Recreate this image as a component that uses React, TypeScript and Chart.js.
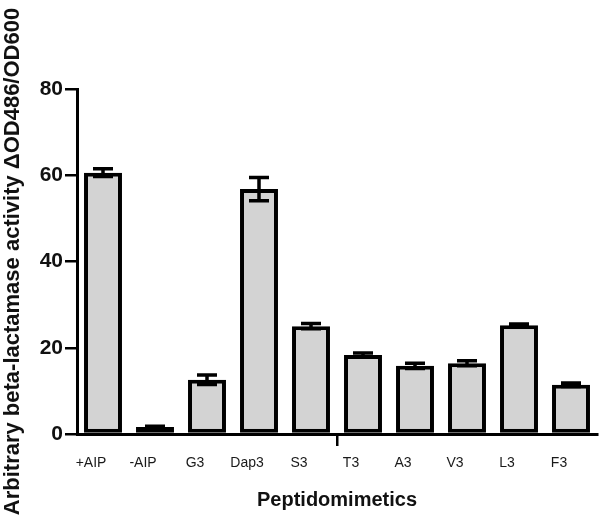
import React, { useEffect, useRef } from "react";
import { Chart, registerables } from "chart.js";

Chart.register(...registerables);

const categories = ["+AIP", "-AIP", "G3", "Dap3", "S3", "T3", "A3", "V3", "L3", "F3"];
const activity = [60.6, 1.6, 12.6, 56.8, 25.0, 18.3, 15.8, 16.4, 25.2, 11.4];
const errors = [0.9, 0.2, 1.1, 2.7, 0.6, 0.5, 0.6, 0.6, 0.3, 0.4];
const yTicks = [0, 20, 40, 60, 80];

const errorBarPlugin = {
  id: "errorBars",
  afterDatasetsDraw(chart: any) {
    const ctx = chart.ctx;
    const meta = chart.getDatasetMeta(0);
    const yScale = chart.scales.y;
    ctx.save();
    ctx.strokeStyle = "#000";
    ctx.lineWidth = 3.5;
    meta.data.forEach((bar: any, i: number) => {
      const v = activity[i];
      const e = errors[i];
      const x = bar.x;
      const yTop = yScale.getPixelForValue(v + e);
      const yBot = yScale.getPixelForValue(v - e);
      const half = 10;
      ctx.beginPath();
      ctx.moveTo(x, yTop);
      ctx.lineTo(x, yBot);
      ctx.moveTo(x - half, yTop);
      ctx.lineTo(x + half, yTop);
      ctx.moveTo(x - half, yBot);
      ctx.lineTo(x + half, yBot);
      ctx.stroke();
    });
    ctx.restore();
  },
};

export default function App() {
  const ref = useRef<HTMLCanvasElement | null>(null);
  useEffect(() => {
    if (!ref.current) return;
    const chart = new Chart(ref.current, {
      type: "bar",
      data: {
        labels: categories,
        datasets: [
          {
            data: activity,
            backgroundColor: "#d3d3d3",
            borderColor: "#000",
            borderWidth: 4,
            borderSkipped: false,
            categoryPercentage: 1,
            barPercentage: 0.73,
          },
        ],
      },
      options: {
        animation: false,
        responsive: false,
        layout: { padding: { top: 89, right: 3, left: 0, bottom: 0 } },
        plugins: { legend: { display: false }, tooltip: { enabled: false } },
        scales: {
          x: {
            offset: true,
            afterFit: (s: any) => {
              s.height = 91;
            },
            grid: {
              offset: true,
              drawOnChartArea: false,
              drawTicks: true,
              tickLength: 12,
              lineWidth: 2.5,
              color: (c: any) => (c.index === 5 ? "#000" : "rgba(0,0,0,0)"),
            },
            border: { display: true, color: "#000", width: 3 },
            ticks: {
              color: "#1a1a1a",
              padding: 9,
              labelOffset: -12,
              maxRotation: 0,
              autoSkip: false,
              font: { family: "'Liberation Sans', Arial, sans-serif", size: 14 },
            },
            title: {
              display: true,
              text: "Peptidomimetics",
              color: "#111",
              padding: { top: 0, bottom: 13 },
              font: { family: "'Liberation Sans', Arial, sans-serif", size: 20, weight: "bold" },
            },
          },
          y: {
            min: 0,
            max: 80,
            afterFit: (s: any) => {
              s.width = 77;
            },
            afterBuildTicks: (s: any) => {
              s.ticks = yTicks.map((v) => ({ value: v }));
            },
            grid: {
              drawOnChartArea: false,
              drawTicks: true,
              tickLength: 12,
              lineWidth: 2.5,
              color: "#000",
            },
            border: { display: true, color: "#000", width: 3 },
            ticks: {
              color: "#111",
              padding: 2,
              font: { family: "'Liberation Sans', Arial, sans-serif", size: 21, weight: "bold" },
            },
            title: {
              display: true,
              text: "Arbitrary beta-lactamase activity ΔOD486/OD600",
              color: "#111",
              padding: { top: 0, bottom: 0 },
              font: { family: "'Liberation Sans', Arial, sans-serif", size: 22, weight: "bold" },
            },
          },
        },
      },
      plugins: [errorBarPlugin],
    } as any);
    return () => chart.destroy();
  }, []);
  return (
    <div style={{ position: "absolute", left: 0, top: 0, width: 600, height: 525, background: "#fff" }}>
      <canvas ref={ref} width={600} height={525} />
    </div>
  );
}
